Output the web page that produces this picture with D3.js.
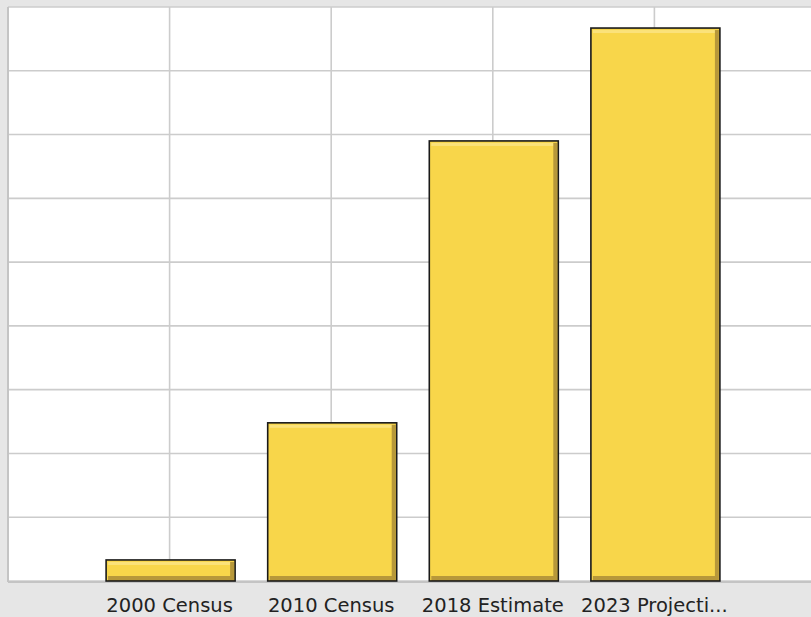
<!DOCTYPE html>
<html>
<head>
<meta charset="utf-8">
<script src="https://cdn.jsdelivr.net/npm/d3@7"></script>
<style>
  body { margin: 0; background: #e6e6e6; }
  svg { display: block; }
</style>
</head>
<body>
<svg width="811" height="617"></svg>
<script>
// population counts (y-axis labels hidden in the original)
var categories = ["2000 Census", "2010 Census", "2018 Estimate", "2023 Projection"];
var tickLabels = ["2000 Census", "2010 Census", "2018 Estimate", "2023 Projecti..."];
var values = [330, 2480, 6900, 8670];
var yTicks = [0, 1000, 2000, 3000, 4000, 5000, 6000, 7000, 8000, 9000];

var svg = d3.select("svg");
var plotLeft = 8, plotTop = 7, plotRight = 816, plotBottom = 581;

var x = d3.scalePoint().domain(categories).range([plotLeft, plotRight]).padding(1);
var y = d3.scaleLinear().domain([0, 9000]).range([plotBottom, plotTop]);
var barW = 129;

svg.append("rect")
    .attr("x", plotLeft).attr("y", plotTop)
    .attr("width", 811 - plotLeft).attr("height", plotBottom - plotTop)
    .attr("fill", "#fff");

// grid
svg.append("g").selectAll("line").data(yTicks).enter().append("line")
    .attr("x1", plotLeft).attr("x2", 811)
    .attr("y1", function(d) { return y(d); })
    .attr("y2", function(d) { return y(d); })
    .attr("stroke", "#cccccc").attr("stroke-width", 1.6);

svg.append("g").selectAll("line").data(categories).enter().append("line")
    .attr("x1", function(d) { return x(d); })
    .attr("x2", function(d) { return x(d); })
    .attr("y1", plotTop).attr("y2", plotBottom)
    .attr("stroke", "#cccccc").attr("stroke-width", 1.6);

// plot border left / bottom
svg.append("line").attr("x1", plotLeft).attr("x2", plotLeft).attr("y1", plotTop).attr("y2", plotBottom + 1)
    .attr("stroke", "#c4c4c4").attr("stroke-width", 2);
svg.append("line").attr("x1", plotLeft).attr("x2", 811).attr("y1", plotBottom + 1).attr("y2", plotBottom + 1)
    .attr("stroke", "#c4c4c4").attr("stroke-width", 2);

// bars
var bars = svg.append("g").selectAll("g").data(values).enter().append("g")
    .attr("transform", function(d, i) {
        return "translate(" + (x(categories[i]) - barW / 2 + 1) + "," + y(d) + ")";
    });

function h(d) { return plotBottom - y(d); }

bars.append("rect")
    .attr("width", barW).attr("height", h)
    .attr("fill", "#f8d64a");
bars.append("rect")
    .attr("x", 2).attr("y", 2)
    .attr("width", barW - 6).attr("height", 3)
    .attr("fill", "#fbe27a");
bars.append("rect")
    .attr("x", barW - 5).attr("y", 2)
    .attr("width", 4).attr("height", function(d) { return h(d) - 2; })
    .attr("fill", "#b7983a");
bars.append("rect")
    .attr("x", 2).attr("y", function(d) { return h(d) - 5; })
    .attr("width", barW - 4).attr("height", 5)
    .attr("fill", "#b7983a");
bars.append("rect")
    .attr("width", barW).attr("height", h)
    .attr("fill", "none").attr("stroke", "#1a1a1a").attr("stroke-width", 1.6);

// category labels
svg.append("g").selectAll("text").data(tickLabels).enter().append("text")
    .attr("x", function(d, i) { return x(categories[i]); })
    .attr("y", 612)
    .attr("text-anchor", "middle")
    .attr("font-family", "DejaVu Sans, Verdana, sans-serif")
    .attr("font-size", 19.5)
    .attr("fill", "#222")
    .text(function(d) { return d; });
</script>
</body>
</html>
